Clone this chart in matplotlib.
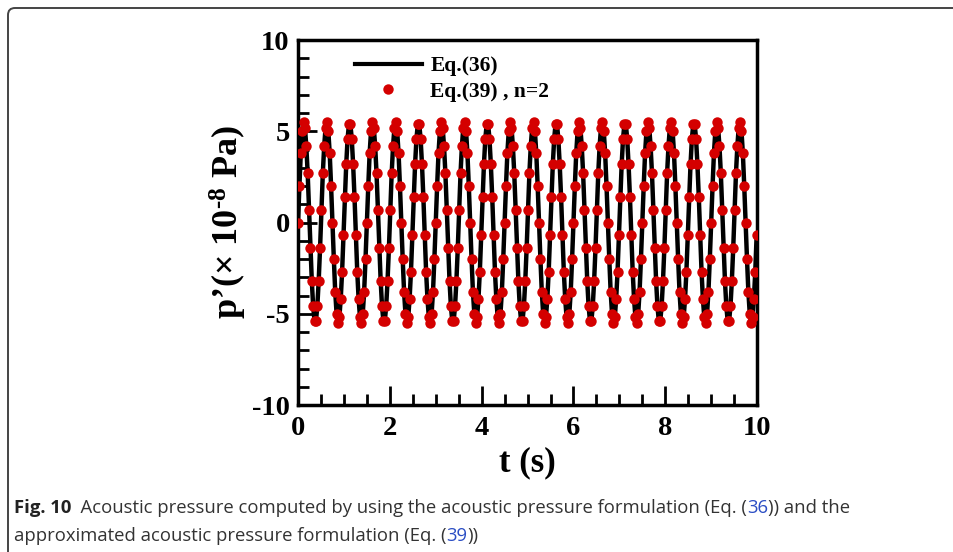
import numpy as np
import matplotlib
matplotlib.use('Agg')
import matplotlib.pyplot as plt
from matplotlib.lines import Line2D
from matplotlib.patches import FancyBboxPatch

# sample step of both series (s)
dt = 0.03

# acoustic pressure p' (x 1e-8 Pa), one value per sample
p_values = [
    0.0, 2.0, 3.8, 5.0, 5.5, 5.2, 4.2, 2.7, 0.7, -1.4, -3.2, -4.6, -5.4, -5.4, -4.6, -3.2, -1.4, 0.7, 2.7, 4.2, 5.2, 5.5, 5.0, 3.8, 2.0,
    0.0, -2.0, -3.8, -5.0, -5.5, -5.2, -4.2, -2.7, -0.7, 1.4, 3.2, 4.6, 5.4, 5.4, 4.6, 3.2, 1.4, -0.7, -2.7, -4.2, -5.2, -5.5, -5.0, -3.8, -2.0,
    0.0, 2.0, 3.8, 5.0, 5.5, 5.2, 4.2, 2.7, 0.7, -1.4, -3.2, -4.6, -5.4, -5.4, -4.6, -3.2, -1.4, 0.7, 2.7, 4.2, 5.2, 5.5, 5.0, 3.8, 2.0,
    0.0, -2.0, -3.8, -5.0, -5.5, -5.2, -4.2, -2.7, -0.7, 1.4, 3.2, 4.6, 5.4, 5.4, 4.6, 3.2, 1.4, -0.7, -2.7, -4.2, -5.2, -5.5, -5.0, -3.8, -2.0,
    0.0, 2.0, 3.8, 5.0, 5.5, 5.2, 4.2, 2.7, 0.7, -1.4, -3.2, -4.6, -5.4, -5.4, -4.6, -3.2, -1.4, 0.7, 2.7, 4.2, 5.2, 5.5, 5.0, 3.8, 2.0,
    0.0, -2.0, -3.8, -5.0, -5.5, -5.2, -4.2, -2.7, -0.7, 1.4, 3.2, 4.6, 5.4, 5.4, 4.6, 3.2, 1.4, -0.7, -2.7, -4.2, -5.2, -5.5, -5.0, -3.8, -2.0,
    0.0, 2.0, 3.8, 5.0, 5.5, 5.2, 4.2, 2.7, 0.7, -1.4, -3.2, -4.6, -5.4, -5.4, -4.6, -3.2, -1.4, 0.7, 2.7, 4.2, 5.2, 5.5, 5.0, 3.8, 2.0,
    0.0, -2.0, -3.8, -5.0, -5.5, -5.2, -4.2, -2.7, -0.7, 1.4, 3.2, 4.6, 5.4, 5.4, 4.6, 3.2, 1.4, -0.7, -2.7, -4.2, -5.2, -5.5, -5.0, -3.8, -2.0,
    0.0, 2.0, 3.8, 5.0, 5.5, 5.2, 4.2, 2.7, 0.7, -1.4, -3.2, -4.6, -5.4, -5.4, -4.6, -3.2, -1.4, 0.7, 2.7, 4.2, 5.2, 5.5, 5.0, 3.8, 2.0,
    0.0, -2.0, -3.8, -5.0, -5.5, -5.2, -4.2, -2.7, -0.7, 1.4, 3.2, 4.6, 5.4, 5.4, 4.6, 3.2, 1.4, -0.7, -2.7, -4.2, -5.2, -5.5, -5.0, -3.8, -2.0,
    0.0, 2.0, 3.8, 5.0, 5.5, 5.2, 4.2, 2.7, 0.7, -1.4, -3.2, -4.6, -5.4, -5.4, -4.6, -3.2, -1.4, 0.7, 2.7, 4.2, 5.2, 5.5, 5.0, 3.8, 2.0,
    0.0, -2.0, -3.8, -5.0, -5.5, -5.2, -4.2, -2.7, -0.7, 1.4, 3.2, 4.6, 5.4, 5.4, 4.6, 3.2, 1.4, -0.7, -2.7, -4.2, -5.2, -5.5, -5.0, -3.8, -2.0,
    0.0, 2.0, 3.8, 5.0, 5.5, 5.2, 4.2, 2.7, 0.7, -1.4, -3.2, -4.6, -5.4, -5.4, -4.6, -3.2, -1.4, 0.7, 2.7, 4.2, 5.2, 5.5, 5.0, 3.8, 2.0,
    0.0, -2.0, -3.8, -5.0, -5.5, -5.2, -4.2, -2.7, -0.7,
]
t_values = dt * np.arange(len(p_values))

x_ticks = [0, 2, 4, 6, 8, 10]
y_ticks = [-10, -5, 0, 5, 10]
labels = ['Eq.(36)', 'Eq.(39) , n=2']

serif = 'Liberation Serif'
red = '#d40000'

plt.rcParams['font.family'] = [serif, 'DejaVu Serif']
plt.rcParams['mathtext.fontset'] = 'custom'
plt.rcParams['mathtext.rm'] = serif + ':bold'
plt.rcParams['mathtext.bf'] = serif + ':bold'
plt.rcParams['mathtext.default'] = 'bf'

fig = plt.figure(figsize=(9.54, 5.52), dpi=100)

# rounded frame of the figure panel, cut off at right and bottom
frame = FancyBboxPatch((0.08, -1.0), 10.0, 6.44,
                       boxstyle='round,pad=0,rounding_size=0.07',
                       transform=fig.dpi_scale_trans, fill=False,
                       edgecolor='#444444', linewidth=1.4)
fig.patches.append(frame)

ax = fig.add_axes([0.3124, 0.2663, 0.4812, 0.6612])

ax.plot(t_values, p_values, color='black', linewidth=3.2, zorder=2)
ax.plot(t_values, p_values, linestyle='none', marker='o', markersize=7.5,
        color=red, markeredgewidth=0, zorder=3)

ax.set_xlim(0, 10)
ax.set_ylim(-10, 10)
ax.set_xticks(x_ticks)
ax.set_yticks(y_ticks)
ax.set_xticks(np.arange(0, 10.01, 0.5), minor=True)
ax.set_yticks(np.arange(-10, 10.01, 1), minor=True)
ax.set_xticklabels([str(v) for v in x_ticks], fontsize=20.5, fontweight='bold')
ax.set_yticklabels([str(v) for v in y_ticks], fontsize=20.5, fontweight='bold')
ax.tick_params(which='major', direction='in', length=14, width=2,
               top=False, right=False, pad=6)
ax.tick_params(which='minor', direction='in', length=8, width=2,
               top=False, right=False)
ax.tick_params(axis='x', which='major', pad=8)
for s in ax.spines.values():
    s.set_linewidth(2.5)

ax.set_xlabel('t (s)', fontsize=25, fontweight='bold', labelpad=4)
ax.set_ylabel('p\u2019(\u00d7 10$^{\\text{-8}}$ Pa)', fontsize=26, fontweight='bold', labelpad=2)

handles = [Line2D([], [], color='black', linewidth=3),
           Line2D([], [], linestyle='none', marker='o', markersize=7.5,
                  color=red, markeredgewidth=0)]
ax.legend(handles, labels, loc='upper left', bbox_to_anchor=(0.124, 0.956),
          frameon=False, borderpad=0, borderaxespad=0, handlelength=3.1,
          handletextpad=0.4, labelspacing=0.25,
          prop={'family': serif, 'weight': 'bold', 'size': 15.5})

# caption with blue equation links
cap_font = ['Open Sans', 'DejaVu Sans']
cap_size = 13.3
txt = fig.text(14 / 954, 1 - 513 / 552, 'Fig. 10', fontsize=cap_size,
               fontweight='bold', family=cap_font, color='#222222')
pieces = [('  Acoustic pressure computed by using the acoustic pressure formulation (Eq. (', '#333333'),
          ('36', '#2a4dc4'),
          (')) and the', '#333333')]
for s, c in pieces:
    txt = ax.annotate(s, xy=(1, 0), xycoords=txt, va='bottom', ha='left',
                      fontsize=cap_size, family=cap_font, color=c,
                      annotation_clip=False)
txt = fig.text(14 / 954, 1 - 541 / 552, 'approximated acoustic pressure formulation (Eq. (',
               fontsize=cap_size, family=cap_font, color='#333333')
for s, c in [('39', '#2a4dc4'), ('))', '#333333')]:
    txt = ax.annotate(s, xy=(1, 0), xycoords=txt, va='bottom', ha='left',
                      fontsize=cap_size, family=cap_font, color=c,
                      annotation_clip=False)

fig.savefig('out.png', dpi=100)
